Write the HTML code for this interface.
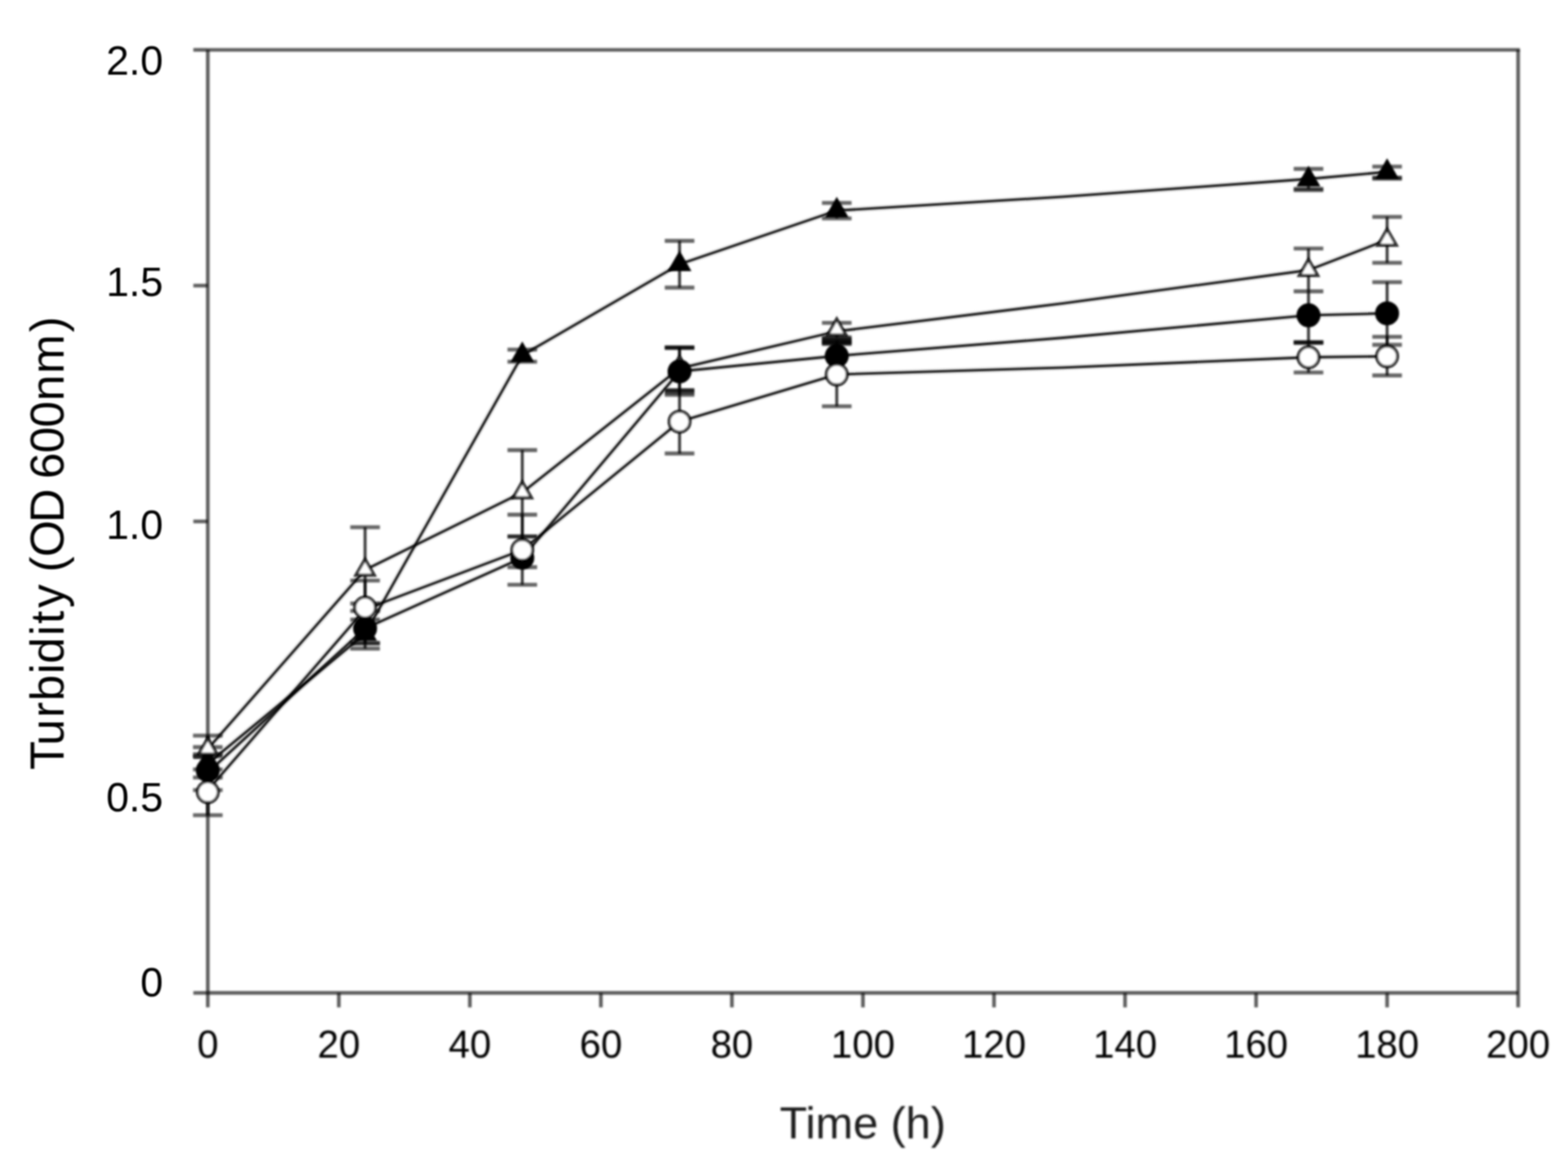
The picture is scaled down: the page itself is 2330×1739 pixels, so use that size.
<!DOCTYPE html>
<html lang="en"><head><meta charset="utf-8"><title>Turbidity (OD 600nm) vs Time (h)</title>
<style>
html,body{margin:0;padding:0;background:#fff;}
body{width:2330px;height:1739px;}
svg{display:block;}
text{font-family:"Liberation Sans",Arial,Helvetica,sans-serif;fill:#000;}
.ax{stroke:#000;stroke-opacity:0.63;stroke-width:5.4;fill:none;}
.ln{stroke:#000;stroke-opacity:0.78;stroke-width:3.8;fill:none;stroke-linejoin:round;}
.lh{stroke:#000;stroke-opacity:0.13;stroke-width:8.6;fill:none;stroke-linejoin:round;}
.eb{stroke:#000;stroke-opacity:0.78;stroke-width:4.3;fill:none;}
.cap{stroke:#000;stroke-opacity:0.6;stroke-width:5.8;fill:none;}
.fm{fill:#000;stroke:#000;stroke-width:4.6;stroke-linejoin:miter;}
.om{fill:#fff;stroke:#000;stroke-opacity:0.84;stroke-width:4.6;stroke-linejoin:miter;}
.xt{font-size:57px;text-anchor:middle;fill:#2b2b2b;}
.yt{font-size:61px;text-anchor:end;}
.xl{font-size:67px;text-anchor:middle;fill:#1c1c1c;}
.yl{font-size:70px;text-anchor:start;}
</style></head><body>
<svg width="2330" height="1739" viewBox="0 0 2330 1739" role="img" aria-label="Turbidity (OD 600nm) versus Time (h)">
<defs>
<filter id="soft" x="0" y="0" width="2330" height="1739" filterUnits="userSpaceOnUse"><feGaussianBlur stdDeviation="1.6"/></filter>
<filter id="softl" x="0" y="0" width="2330" height="1739" filterUnits="userSpaceOnUse"><feGaussianBlur stdDeviation="1.15"/></filter>
<filter id="softx" x="0" y="0" width="2330" height="1739" filterUnits="userSpaceOnUse"><feGaussianBlur stdDeviation="1.45"/></filter>
<filter id="softy" x="0" y="0" width="2330" height="1739" filterUnits="userSpaceOnUse"><feGaussianBlur stdDeviation="0.9"/></filter>
</defs>
<rect x="0" y="0" width="2330" height="1739" fill="#fff"/>
<g filter="url(#soft)">
<g class="ax">
<line x1="308.8" y1="74.1" x2="2258.6" y2="74.1"/>
<line x1="308.8" y1="1475.8" x2="2255.9" y2="1475.8"/>
<line x1="308.8" y1="74.1" x2="308.8" y2="1497.3"/>
<line x1="2255.9" y1="74.1" x2="2255.9" y2="1497.3"/>
<line x1="503.5" y1="1475.8" x2="503.5" y2="1497.3"/>
<line x1="698.2" y1="1475.8" x2="698.2" y2="1497.3"/>
<line x1="892.9" y1="1475.8" x2="892.9" y2="1497.3"/>
<line x1="1087.6" y1="1475.8" x2="1087.6" y2="1497.3"/>
<line x1="1282.3" y1="1475.8" x2="1282.3" y2="1497.3"/>
<line x1="1477.1" y1="1475.8" x2="1477.1" y2="1497.3"/>
<line x1="1671.8" y1="1475.8" x2="1671.8" y2="1497.3"/>
<line x1="1866.5" y1="1475.8" x2="1866.5" y2="1497.3"/>
<line x1="2061.2" y1="1475.8" x2="2061.2" y2="1497.3"/>
<line x1="287.3" y1="74.1" x2="308.8" y2="74.1"/>
<line x1="287.3" y1="424.5" x2="308.8" y2="424.5"/>
<line x1="287.3" y1="775.0" x2="308.8" y2="775.0"/>
<line x1="287.3" y1="1125.4" x2="308.8" y2="1125.4"/>
<line x1="287.3" y1="1475.8" x2="308.8" y2="1475.8"/>
</g>
</g>
<g filter="url(#softl)">
<polyline class="lh" points="308.8,1135.0 542.5,942.0 776.1,528.0 1009.8,392.8 1243.4,313.0 1580.0,292.4 1944.4,266.0 2061.2,255.5"/>
<polyline class="ln" points="308.8,1135.0 542.5,942.0 776.1,528.0 1009.8,392.8 1243.4,313.0 1580.0,292.4 1944.4,266.0 2061.2,255.5"/>
<polyline class="lh" points="308.8,1113.0 542.5,847.0 776.1,732.0 1009.8,547.5 1243.4,492.5 1580.0,450.8 1944.4,401.5 2061.2,356.5"/>
<polyline class="ln" points="308.8,1113.0 542.5,847.0 776.1,732.0 1009.8,547.5 1243.4,492.5 1580.0,450.8 1944.4,401.5 2061.2,356.5"/>
<polyline class="lh" points="308.8,1148.0 542.5,934.0 776.1,829.0 1009.8,552.0 1243.4,529.0 1580.0,502.0 1944.4,468.6 2061.2,465.7"/>
<polyline class="ln" points="308.8,1148.0 542.5,934.0 776.1,829.0 1009.8,552.0 1243.4,529.0 1580.0,502.0 1944.4,468.6 2061.2,465.7"/>
<polyline class="lh" points="308.8,1174.5 542.5,905.5 776.1,817.4 1009.8,626.7 1243.4,556.6 1580.0,546.3 1944.4,531.0 2061.2,529.6"/>
<polyline class="ln" points="308.8,1174.5 542.5,905.5 776.1,817.4 1009.8,626.7 1243.4,556.6 1580.0,546.3 1944.4,531.0 2061.2,529.6"/>
</g>
<g filter="url(#soft)">
<g>
<line class="eb" x1="308.8" y1="1124.0" x2="308.8" y2="1155.7"/>
<line class="cap" x1="286.8" y1="1124.0" x2="330.8" y2="1124.0"/>
<line class="cap" x1="286.8" y1="1155.7" x2="330.8" y2="1155.7"/>
<line class="eb" x1="542.5" y1="921.0" x2="542.5" y2="955.5"/>
<line class="cap" x1="520.5" y1="921.0" x2="564.5" y2="921.0"/>
<line class="cap" x1="520.5" y1="955.5" x2="564.5" y2="955.5"/>
<line class="eb" x1="776.1" y1="519.6" x2="776.1" y2="537.7"/>
<line class="cap" x1="754.1" y1="519.6" x2="798.1" y2="519.6"/>
<line class="cap" x1="754.1" y1="537.7" x2="798.1" y2="537.7"/>
<line class="eb" x1="1009.8" y1="358.0" x2="1009.8" y2="427.5"/>
<line class="cap" x1="987.8" y1="358.0" x2="1031.8" y2="358.0"/>
<line class="cap" x1="987.8" y1="427.5" x2="1031.8" y2="427.5"/>
<line class="eb" x1="1243.4" y1="301.7" x2="1243.4" y2="324.6"/>
<line class="cap" x1="1221.4" y1="301.7" x2="1265.4" y2="301.7"/>
<line class="cap" x1="1221.4" y1="324.6" x2="1265.4" y2="324.6"/>
<line class="eb" x1="1944.4" y1="251.0" x2="1944.4" y2="280.7"/>
<line class="cap" x1="1922.4" y1="251.0" x2="1966.4" y2="251.0"/>
<line class="cap" x1="1922.4" y1="280.7" x2="1966.4" y2="280.7"/>
<line class="cap" x1="1922.4" y1="282.7" x2="1966.4" y2="282.7"/>
<line class="eb" x1="2061.2" y1="247.7" x2="2061.2" y2="264.0"/>
<line class="cap" x1="2039.2" y1="247.7" x2="2083.2" y2="247.7"/>
<line class="cap" x1="2039.2" y1="264.0" x2="2083.2" y2="264.0"/>
<line class="cap" x1="2039.2" y1="265.5" x2="2083.2" y2="265.5"/>
<line class="eb" x1="308.8" y1="1093.4" x2="308.8" y2="1121.0"/>
<line class="cap" x1="286.8" y1="1093.4" x2="330.8" y2="1093.4"/>
<line class="cap" x1="286.8" y1="1121.0" x2="330.8" y2="1121.0"/>
<line class="eb" x1="542.5" y1="783.6" x2="542.5" y2="908.0"/>
<line class="cap" x1="520.5" y1="783.6" x2="564.5" y2="783.6"/>
<line class="cap" x1="520.5" y1="908.0" x2="564.5" y2="908.0"/>
<line class="eb" x1="776.1" y1="669.0" x2="776.1" y2="797.3"/>
<line class="cap" x1="754.1" y1="669.0" x2="798.1" y2="669.0"/>
<line class="cap" x1="754.1" y1="797.3" x2="798.1" y2="797.3"/>
<line class="eb" x1="1009.8" y1="516.3" x2="1009.8" y2="580.0"/>
<line class="cap" x1="987.8" y1="516.3" x2="1031.8" y2="516.3"/>
<line class="cap" x1="987.8" y1="580.0" x2="1031.8" y2="580.0"/>
<line class="cap" x1="987.8" y1="517.3" x2="1031.8" y2="517.3"/>
<line class="eb" x1="1243.4" y1="479.9" x2="1243.4" y2="501.5"/>
<line class="cap" x1="1221.4" y1="479.9" x2="1265.4" y2="479.9"/>
<line class="cap" x1="1221.4" y1="501.5" x2="1265.4" y2="501.5"/>
<line class="cap" x1="1221.4" y1="503.5" x2="1265.4" y2="503.5"/>
<line class="eb" x1="1944.4" y1="369.3" x2="1944.4" y2="433.0"/>
<line class="cap" x1="1922.4" y1="369.3" x2="1966.4" y2="369.3"/>
<line class="cap" x1="1922.4" y1="433.0" x2="1966.4" y2="433.0"/>
<line class="eb" x1="2061.2" y1="322.3" x2="2061.2" y2="390.6"/>
<line class="cap" x1="2039.2" y1="322.3" x2="2083.2" y2="322.3"/>
<line class="cap" x1="2039.2" y1="390.6" x2="2083.2" y2="390.6"/>
<line class="eb" x1="308.8" y1="1110.5" x2="308.8" y2="1174.4"/>
<line class="cap" x1="286.8" y1="1110.5" x2="330.8" y2="1110.5"/>
<line class="cap" x1="286.8" y1="1174.4" x2="330.8" y2="1174.4"/>
<line class="eb" x1="542.5" y1="897.0" x2="542.5" y2="964.0"/>
<line class="cap" x1="520.5" y1="897.0" x2="564.5" y2="897.0"/>
<line class="cap" x1="520.5" y1="964.0" x2="564.5" y2="964.0"/>
<line class="eb" x1="776.1" y1="797.3" x2="776.1" y2="843.0"/>
<line class="cap" x1="754.1" y1="797.3" x2="798.1" y2="797.3"/>
<line class="cap" x1="754.1" y1="843.0" x2="798.1" y2="843.0"/>
<line class="eb" x1="1009.8" y1="516.3" x2="1009.8" y2="586.8"/>
<line class="cap" x1="987.8" y1="516.3" x2="1031.8" y2="516.3"/>
<line class="cap" x1="987.8" y1="586.8" x2="1031.8" y2="586.8"/>
<line class="cap" x1="987.8" y1="583.4" x2="1031.8" y2="583.4"/>
<line class="eb" x1="1243.4" y1="505.5" x2="1243.4" y2="509.5"/>
<line class="cap" x1="1221.4" y1="505.5" x2="1265.4" y2="505.5"/>
<line class="cap" x1="1221.4" y1="509.5" x2="1265.4" y2="509.5"/>
<line class="cap" x1="1221.4" y1="507.5" x2="1265.4" y2="507.5"/>
<line class="eb" x1="1944.4" y1="433.0" x2="1944.4" y2="508.6"/>
<line class="cap" x1="1922.4" y1="508.6" x2="1966.4" y2="508.6"/>
<line class="cap" x1="1922.4" y1="509.8" x2="1966.4" y2="509.8"/>
<line class="eb" x1="2061.2" y1="419.4" x2="2061.2" y2="512.5"/>
<line class="cap" x1="2039.2" y1="419.4" x2="2083.2" y2="419.4"/>
<line class="cap" x1="2039.2" y1="512.5" x2="2083.2" y2="512.5"/>
<line class="eb" x1="308.8" y1="1143.6" x2="308.8" y2="1211.6"/>
<line class="cap" x1="286.8" y1="1143.6" x2="330.8" y2="1143.6"/>
<line class="cap" x1="286.8" y1="1211.6" x2="330.8" y2="1211.6"/>
<line class="eb" x1="542.5" y1="862.8" x2="542.5" y2="956.5"/>
<line class="cap" x1="520.5" y1="862.8" x2="564.5" y2="862.8"/>
<line class="cap" x1="520.5" y1="956.5" x2="564.5" y2="956.5"/>
<line class="eb" x1="776.1" y1="765.0" x2="776.1" y2="869.2"/>
<line class="cap" x1="754.1" y1="765.0" x2="798.1" y2="765.0"/>
<line class="cap" x1="754.1" y1="869.2" x2="798.1" y2="869.2"/>
<line class="eb" x1="1009.8" y1="580.2" x2="1009.8" y2="674.0"/>
<line class="cap" x1="987.8" y1="580.2" x2="1031.8" y2="580.2"/>
<line class="cap" x1="987.8" y1="674.0" x2="1031.8" y2="674.0"/>
<line class="eb" x1="1243.4" y1="509.5" x2="1243.4" y2="603.8"/>
<line class="cap" x1="1221.4" y1="509.5" x2="1265.4" y2="509.5"/>
<line class="cap" x1="1221.4" y1="603.8" x2="1265.4" y2="603.8"/>
<line class="cap" x1="1221.4" y1="511.3" x2="1265.4" y2="511.3"/>
<line class="eb" x1="1944.4" y1="508.6" x2="1944.4" y2="553.6"/>
<line class="cap" x1="1922.4" y1="508.6" x2="1966.4" y2="508.6"/>
<line class="cap" x1="1922.4" y1="553.6" x2="1966.4" y2="553.6"/>
<line class="eb" x1="2061.2" y1="500.6" x2="2061.2" y2="558.0"/>
<line class="cap" x1="2039.2" y1="500.6" x2="2083.2" y2="500.6"/>
<line class="cap" x1="2039.2" y1="558.0" x2="2083.2" y2="558.0"/>
</g>
<g>
<polygon class="fm" points="308.8,1115.1 322.5,1138.9 295.1,1138.9"/>
<polygon class="fm" points="542.5,926.1 556.2,949.9 528.8,949.9"/>
<polygon class="fm" points="776.1,512.1 789.8,535.9 762.4,535.9"/>
<polygon class="fm" points="1009.8,376.9 1023.5,400.7 996.1,400.7"/>
<polygon class="fm" points="1243.4,297.1 1257.1,320.9 1229.7,320.9"/>
<polygon class="fm" points="1944.4,250.9 1958.1,274.7 1930.7,274.7"/>
<polygon class="fm" points="2061.2,239.9 2074.9,263.7 2047.5,263.7"/>
<polygon class="om" points="308.8,1097.1 322.5,1120.9 295.1,1120.9"/>
<polygon class="om" points="542.5,831.1 556.2,854.9 528.8,854.9"/>
<polygon class="om" points="776.1,716.1 789.8,739.9 762.4,739.9"/>
<polygon class="om" points="1009.8,529.6 1023.5,553.4 996.1,553.4"/>
<polygon class="om" points="1243.4,474.1 1257.1,497.9 1229.7,497.9"/>
<polygon class="om" points="1944.4,385.6 1958.1,409.4 1930.7,409.4"/>
<polygon class="om" points="2061.2,340.6 2074.9,364.4 2047.5,364.4"/>
<circle class="fm" cx="308.8" cy="1145.0" r="15.5"/>
<circle class="fm" cx="542.5" cy="934.0" r="15.5"/>
<circle class="fm" cx="776.1" cy="829.0" r="15.5"/>
<circle class="fm" cx="1009.8" cy="552.0" r="15.5"/>
<circle class="fm" cx="1243.4" cy="529.0" r="15.5"/>
<circle class="fm" cx="1944.4" cy="468.6" r="15.5"/>
<circle class="fm" cx="2061.2" cy="465.7" r="15.5"/>
<circle class="om" cx="308.8" cy="1177.3" r="15.5"/>
<circle class="om" cx="542.5" cy="903.0" r="15.5"/>
<circle class="om" cx="776.1" cy="817.4" r="15.5"/>
<circle class="om" cx="1009.8" cy="626.7" r="15.5"/>
<circle class="om" cx="1243.4" cy="556.6" r="15.5"/>
<circle class="om" cx="1944.4" cy="531.0" r="15.5"/>
<circle class="om" cx="2061.2" cy="529.6" r="15.5"/>
</g>
</g>
<g filter="url(#softx)">
<g class="xt">
<text x="308.8" y="1572">0</text>
<text x="503.5" y="1572">20</text>
<text x="698.2" y="1572">40</text>
<text x="892.9" y="1572">60</text>
<text x="1087.6" y="1572">80</text>
<text x="1282.3" y="1572">100</text>
<text x="1477.1" y="1572">120</text>
<text x="1671.8" y="1572">140</text>
<text x="1866.5" y="1572">160</text>
<text x="2061.2" y="1572">180</text>
<text x="2255.9" y="1572">200</text>
</g>
<text class="xl" x="1282" y="1692">Time (h)</text>
</g>
<g filter="url(#softy)">
<g class="yt">
<text x="242.5" y="110.5">2.0</text>
<text x="242.5" y="440.0">1.5</text>
<text x="242.5" y="800.5">1.0</text>
<text x="242.5" y="1206.0">0.5</text>
<text x="242.5" y="1481.0">0</text>
</g>
<text class="yl" transform="translate(94.5 0) rotate(-90)" x="-1144.3 -1108.0 -1066.8 -1042.0 -1001.8 -986.2 -945.1 -927.3 -903.5 -868.5 -850.4 -827.7 -777.0 -726.4 -711.8 -673.5 -635.3 -596.1 -555.5 -493.8" y="0">Turbidity (OD 600nm)</text>
</g>
</svg>
</body></html>
